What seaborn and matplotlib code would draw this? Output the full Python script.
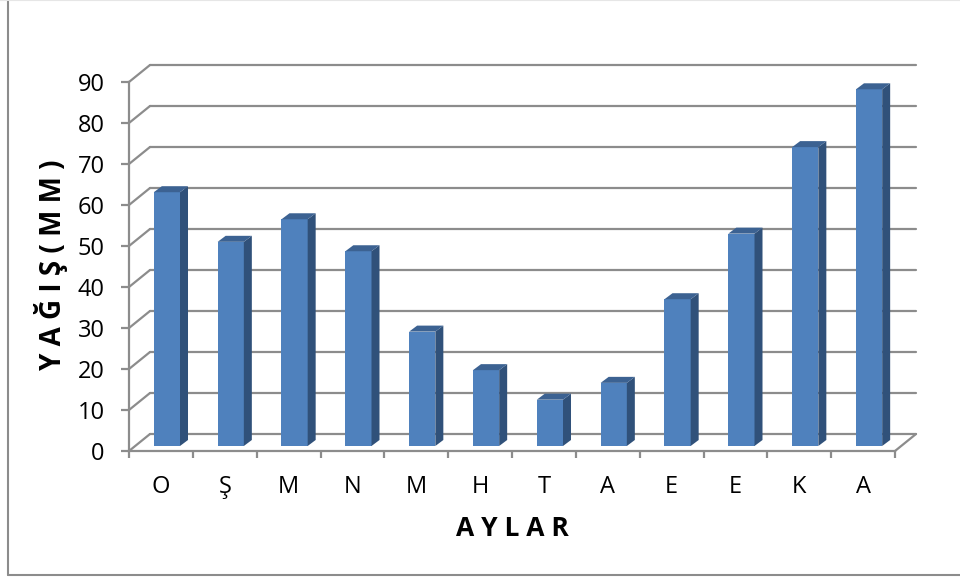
import matplotlib
matplotlib.use("Agg")
import matplotlib.pyplot as plt
from matplotlib.lines import Line2D
from matplotlib.patches import Polygon
from matplotlib.transforms import offset_copy
import pandas as pd
import seaborn as sns

# ── Data ──────────────────────────────────────────────────────────────────────
aylar = ['O', 'Ş', 'M', 'N', 'M', 'H', 'T', 'A', 'E', 'E', 'K', 'A']
yagis = [61.9, 49.8, 55.3, 47.5, 27.9, 18.5, 11.3, 15.4, 35.8, 51.8, 72.9, 87.0]
y_ticks = [0, 10, 20, 30, 40, 50, 60, 70, 80, 90]

# ── Setup ─────────────────────────────────────────────────────────────────────
sns.set_theme(style="white")
plt.rcParams['font.family'] = ['Open Sans', 'DejaVu Sans']

W, H = 960, 579
GRAY = '#8c8c8c'
BLUE = '#4f81bd'
SIDE = '#30517a'
TOP = '#3c6292'

fig = plt.figure(figsize=(W / 100, H / 100), dpi=100)
ax = fig.add_axes([129 / W, 1 - 451 / H, 766 / W, 369 / H])

df = pd.DataFrame({'pos': range(len(aylar)), 'yagis': yagis})
sns.barplot(data=df, x='pos', y='yagis', color=BLUE, saturation=1, width=0.41,
            linewidth=0, ax=ax, zorder=3)
ax.set_xlim(-0.5, 11.5)
ax.set_ylim(0, 90)

# pixel sizes turned into data units for the fake 3D depth
px_x = 12 / 766
px_y = 90 / 369

# back wall and floor
back_x, back_y = 21 * px_x, 17 * px_y
for v in y_ticks:
    ax.plot([-0.5 + back_x, 11.5 + back_x], [v + back_y, v + back_y], color=GRAY, lw=1.6, zorder=1, clip_on=False)
    ax.plot([-0.5, -0.5 + back_x], [v, v + back_y], color=GRAY, lw=1.6, zorder=1, clip_on=False)
ax.plot([11.5, 11.5 + back_x], [0, back_y], color=GRAY, lw=1.6, zorder=1, clip_on=False)

# bars sit part way into the depth, top and side faces added by hand
bar_tr = offset_copy(ax.transData, fig, x=6, y=5, units='dots')
depth_x, depth_y = 8 * px_x, 6 * px_y
for bar in list(ax.patches):
    bar.set_transform(bar_tr)
    bar.set_clip_on(False)
    x0, x1, h = bar.get_x(), bar.get_x() + bar.get_width(), bar.get_height()
    ax.add_patch(Polygon([(x1, 0), (x1 + depth_x, depth_y), (x1 + depth_x, h + depth_y), (x1, h)],
                         facecolor=SIDE, edgecolor='none', transform=bar_tr, clip_on=False, zorder=3))
    ax.add_patch(Polygon([(x0, h), (x0 + depth_x, h + depth_y), (x1 + depth_x, h + depth_y), (x1, h)],
                         facecolor=TOP, edgecolor='none', transform=bar_tr, clip_on=False, zorder=3))

# axes
sns.despine(ax=ax)
for side in ['left', 'bottom']:
    ax.spines[side].set_color(GRAY)
    ax.spines[side].set_linewidth(1.6)
ax.set_xticks([i - 0.5 for i in range(13)], minor=True)
ax.set_xticks(range(12), aylar)
ax.set_yticks(y_ticks)
ax.tick_params(axis='x', which='minor', bottom=True, length=5, width=1.6, color=GRAY)
ax.tick_params(axis='x', which='major', bottom=False, pad=11, labelsize=17, labelcolor='black')
ax.tick_params(axis='y', left=True, length=6, width=1.6, color=GRAY, pad=11.5, labelsize=17, labelcolor='black')
ax.set_xlabel('A Y L A R', fontsize=19, fontweight='bold', color='black')
ax.set_ylabel('Y A Ğ I Ş ( M M )', fontsize=20, fontweight='bold', color='black')
ax.xaxis.set_label_coords((512 - 129) / 766, -(529 - 451) / 369, transform=ax.transAxes)
ax.xaxis.label.set_va('center')
ax.yaxis.set_label_coords(-(129 - 51) / 766, (451 - 265) / 369, transform=ax.transAxes)
ax.yaxis.label.set_va('center')

# chart frame: left and bottom show, the top edge is barely visible
fig.add_artist(Line2D([8 / W, 8 / W], [1 - 575 / H, 1], color=GRAY, lw=1.5))
fig.add_artist(Line2D([8 / W, 1], [1 - 575 / H, 1 - 575 / H], color=GRAY, lw=1.5))
fig.add_artist(Line2D([0, 1], [1, 1], color='#e6e6e6', lw=1.5))

plt.savefig('out.png', dpi=100)
plt.close()
